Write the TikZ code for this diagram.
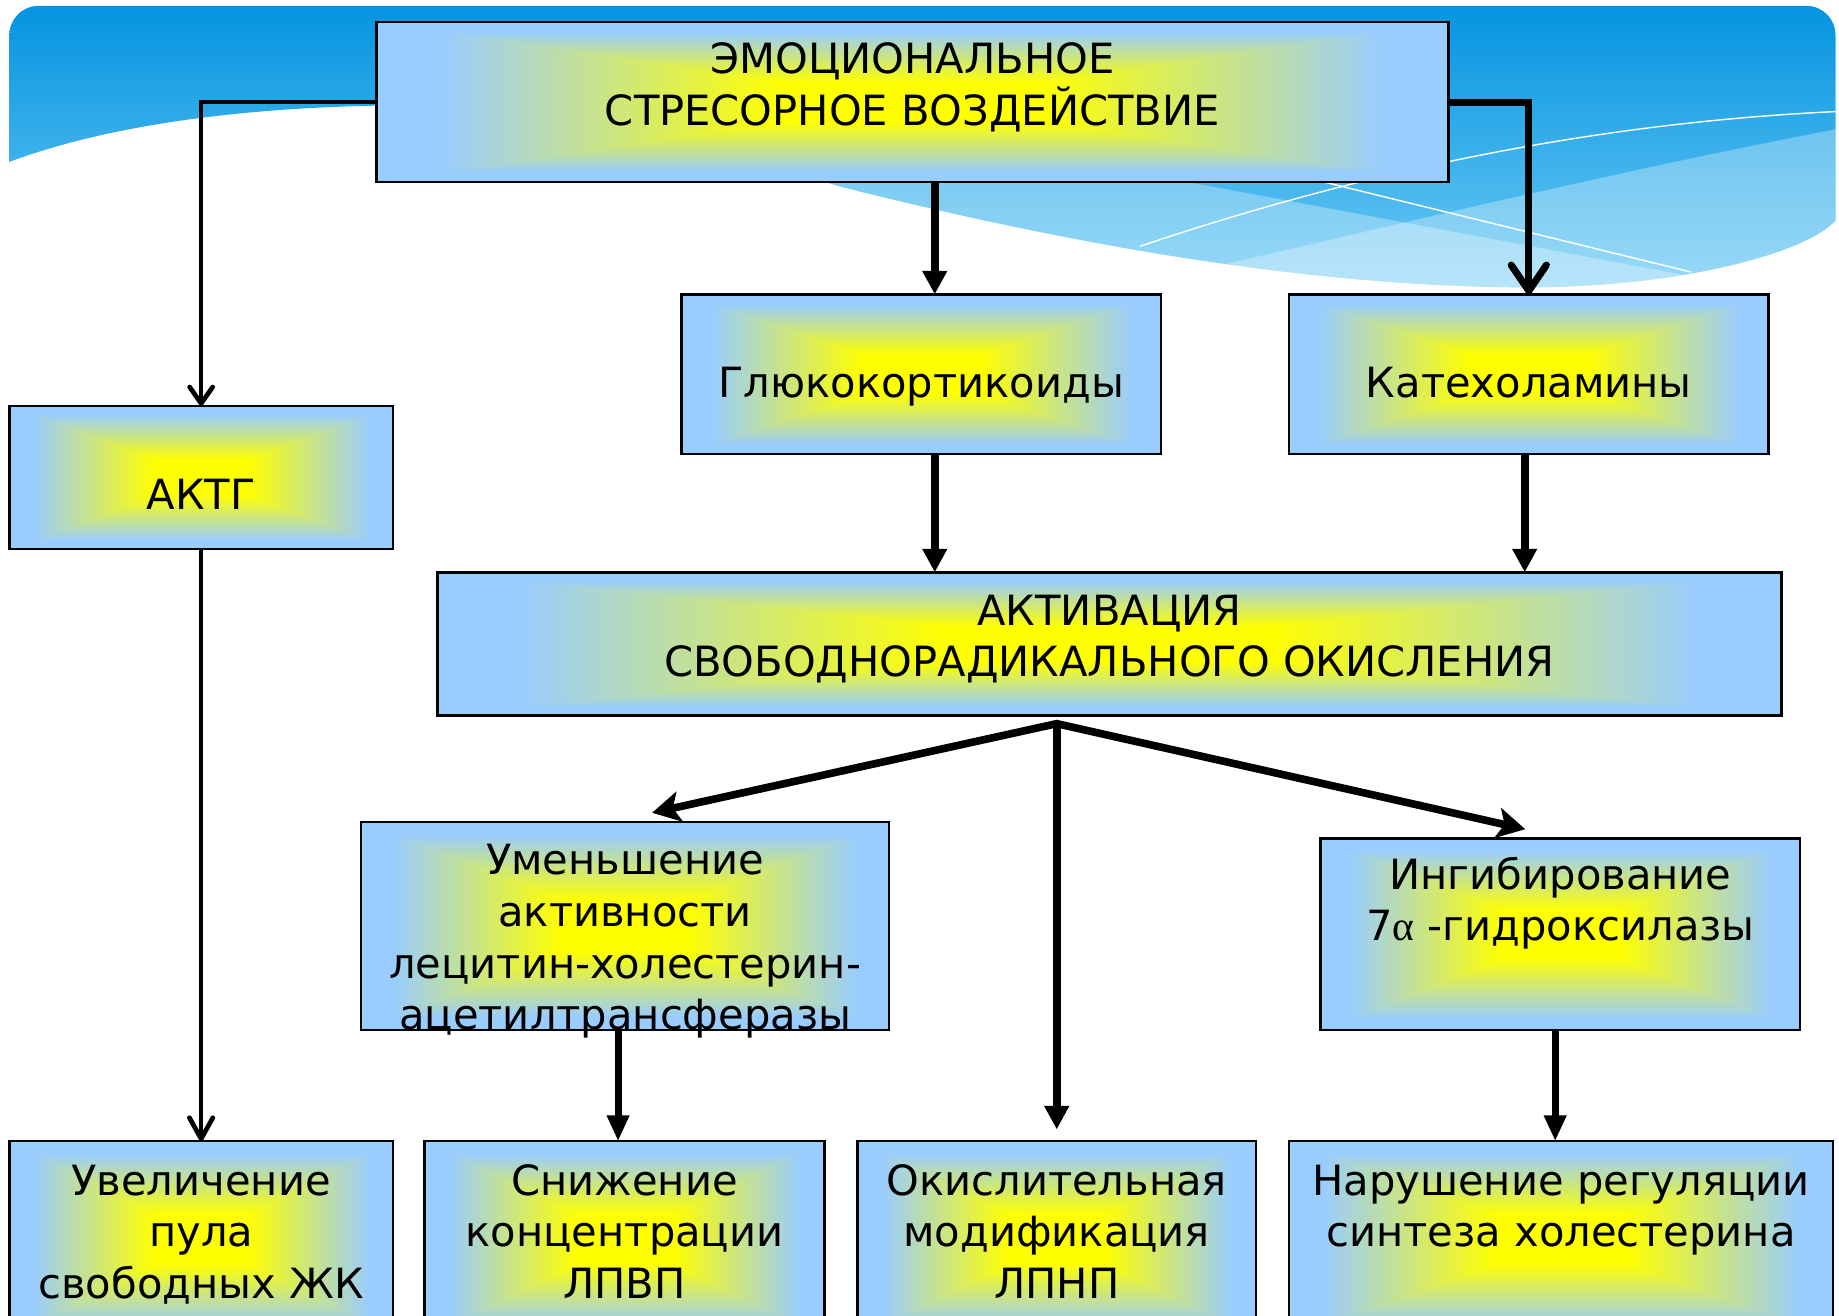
\documentclass[tikz,border=0pt]{standalone}
\usepackage{fontspec}
\setmainfont{DejaVu Sans}
\newfontfamily\grkfont{Liberation Serif}
\usetikzlibrary{arrows.meta}
\pgfdeclarefunctionalshading{boxgrad}{\pgfpoint{-50bp}{-50bp}}{\pgfpoint{50bp}{50bp}}{}{abs exch abs 2 copy lt {exch} if pop 6 sub 16 div dup 0 lt {pop 0} if dup 1 gt {pop 1} if dup dup 0.4 mul 1 exch sub exch 0.2 mul 1 exch sub 3 -1 roll}
\newcommand\boxfont{\fontsize{35.5}{44}\selectfont}
\newcommand\mystrut{\rule{0pt}{36pt}}
\definecolor{bannertop}{HTML}{0594E0}
\definecolor{bannerbot}{HTML}{6CCAF5}
\def\bannerpath{(8,138) -- (8,30) .. controls (8,16) and (19,5) .. (33,5) -- (1540,5) .. controls (1554,5) and (1565,16) .. (1565,30) -- (1565,188) .. controls (1540,216) and (1430,246) .. (1293,245) .. controls (1100,243) and (900,205) .. (720,160) .. controls (600,125) and (480,92) .. (380,90) .. controls (250,88) and (110,100) .. (8,138) -- cycle}
\begin{document}
\begin{tikzpicture}[x=1pt,y=-1pt,
  box/.style={draw=black, line width=2pt, shading=boxgrad, rectangle, inner sep=0pt, outer sep=0pt},
  lbl/.style={anchor=north, inner sep=0pt, outer sep=0pt, align=center, font=\boxfont, text=black},
  conn/.style={draw=black, line cap=butt, line join=miter},
  vbarb/.style={-{Straight Barb[length=#1, width=1.4*#1, round]}},
  tri/.style={-{Triangle[length=20pt, width=20pt]}}]
\useasboundingbox (0,0) rectangle (1568,1122);
% background banner
\path[top color=bannertop, bottom color=bannerbot] \bannerpath;
\begin{scope}
  \clip \bannerpath;
  \fill[white, opacity=0.3] (600,80) .. controls (800,115) and (1200,190) .. (1444,236) -- (1620,290) -- (1620,320) -- (500,320) -- (500,80) -- cycle;
  \fill[white, opacity=0.3] (980,240) .. controls (1200,190) and (1400,140) .. (1620,100) -- (1620,320) -- (980,320) -- cycle;
  \draw[white, line width=1.2pt] (972,210) .. controls (1150,150) and (1350,105) .. (1568,95);
  \draw[white, line width=1.2pt] (1128,155) -- (1442,232);
\end{scope}
% boxes
\node[box, minimum width=914pt, minimum height=136pt] (top) at (778,87) {};
\node[box, minimum width=327pt, minimum height=122pt] (aktg) at (171.5,407) {};
\node[box, minimum width=409pt, minimum height=136pt] (gluk) at (785.5,319) {};
\node[box, minimum width=409pt, minimum height=136pt] (kat) at (1303.5,319) {};
\node[box, minimum width=1146pt, minimum height=122pt] (act) at (946,549) {};
\node[box, minimum width=450pt, minimum height=177pt] (umen) at (533,789.5) {};
\node[box, minimum width=409pt, minimum height=163pt] (ingib) at (1330.5,796.5) {};
\node[box, minimum width=327pt, minimum height=167pt] (b1) at (171.5,1056.5) {};
\node[box, minimum width=341pt, minimum height=167pt] (b2) at (532.5,1056.5) {};
\node[box, minimum width=340pt, minimum height=167pt] (b3) at (901,1056.5) {};
\node[box, minimum width=464pt, minimum height=167pt] (b4) at (1331,1056.5) {};
% labels
\node[lbl] (topT) at (778,27) {\mystrut ЭМОЦИОНАЛЬНОЕ\\СТРЕСОРНОЕ ВОЗДЕЙСТВИЕ};
\node[lbl] (aktgT) at (171.5,398) {\mystrut АКТГ};
\node[lbl] (glukT) at (785.5,303) {\mystrut Глюкокортикоиды};
\node[lbl] (katT) at (1303.5,303) {\mystrut Катехоламины};
\node[lbl] (actT) at (946,497) {\mystrut АКТИВАЦИЯ\\СВОБОДНОРАДИКАЛЬНОГО ОКИСЛЕНИЯ};
\node[lbl] (umenT) at (533,710) {\mystrut Уменьшение\\активности\\лецитин-холестерин-\\ацетилтрансферазы};
\node[lbl] (ingibT) at (1330.5,722) {\mystrut Ингибирование\\7{\grkfont α} -гидроксилазы};
\node[lbl] (b1T) at (171.5,983) {\mystrut Увеличение\\пула\\свободных ЖК};
\node[lbl] (b2T) at (532.5,983) {\mystrut Снижение\\концентрации\\ЛПВП};
\node[lbl] (b3T) at (901,983) {\mystrut Окислительная\\модификация\\ЛПНП};
\node[lbl] (b4T) at (1331,983) {\mystrut Нарушение регуляции\\синтеза холестерина};
% connectors
\coordinate (xg) at (797,0);
\coordinate (xk) at (1300,0);
\coordinate (xu) at (527,0);
\coordinate (xi) at (1326,0);
\coordinate (br) at (901,617);
\draw[conn, line width=4pt, vbarb=14pt] (top.west) -| (aktg.north);
\draw[conn, line width=6pt, -{Straight Barb[length=22pt, width=30pt, round]}] (top.east) -| (kat.north);
\draw[conn, line width=6.5pt, tri] (top.south -| xg) -- (gluk.north -| xg);
\draw[conn, line width=6.5pt, tri] (gluk.south -| xg) -- (act.north -| xg);
\draw[conn, line width=6.5pt, tri] (kat.south -| xk) -- (act.north -| xk);
\draw[conn, line width=4pt, -{Straight Barb[length=18pt, width=20pt, round]}] (aktg.south) -- (b1.north);
\draw[conn, line width=6.5pt, {Stealth[length=24pt, width=26pt, inset=6pt]}-{Stealth[length=24pt, width=26pt, inset=6pt]}] ([xshift=23pt, yshift=8pt]umen.north) -- (br) -- ([xshift=-30pt, yshift=8pt]ingib.north);
\draw[conn, line width=6.5pt, tri] (br) -- ([yshift=10pt]b3.north);
\draw[conn, line width=6pt, -{Triangle[length=22pt, width=18pt]}] (umen.south -| xu) -- (b2.north -| xu);
\draw[conn, line width=6pt, -{Triangle[length=22pt, width=18pt]}] (ingib.south -| xi) -- (b4.north -| xi);
\end{tikzpicture}
\end{document}
